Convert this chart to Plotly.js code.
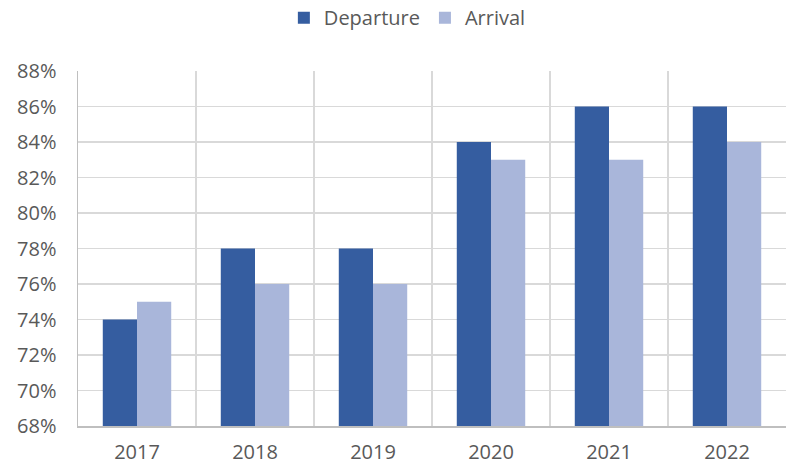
<!DOCTYPE html>
<html><head><meta charset="utf-8">
<script src="https://cdn.plot.ly/plotly-3.0.1.min.js"></script>
<style>html,body{margin:0;padding:0;background:#fff}#chart{width:791px;height:465px}</style>
</head><body><div id="chart"></div>
<script>
const years = ['2017','2018','2019','2020','2021','2022'];
const departure = [74, 78, 78, 84, 86, 86];
const arrival = [75, 76, 76, 83, 83, 84];

const font = {family: 'Open Sans, Liberation Sans, sans-serif', size: 20, color: '#595959'};
const data = [
  {type: 'bar', name: 'Departure', x: years, y: departure, marker: {color: '#355DA0'}},
  {type: 'bar', name: 'Arrival', x: years, y: arrival, marker: {color: '#A9B6DA'}}
];
const layout = {
  width: 791, height: 465,
  margin: {l: 78, r: 5, t: 71, b: 39},
  paper_bgcolor: '#fff', plot_bgcolor: '#fff',
  font: font,
  barmode: 'group', bargap: 0.42, bargroupgap: 0,
  showlegend: true,
  legend: {orientation: 'h', xref: 'container', yref: 'container', x: 0.515, xanchor: 'center', y: 0.962, yanchor: 'middle',
           font: font, itemwidth: 30, traceorder: 'normal', tracegroupgap: 0},
  xaxis: {type: 'category', tickson: 'boundaries', showgrid: true, gridcolor: '#D9D9D9', gridwidth: 1.5,
          showline: true, linecolor: '#BFBFBF', linewidth: 1.5, ticks: '', tickfont: font, fixedrange: true,
          automargin: false, ticklabelstandoff: 7},
  yaxis: {range: [68, 88], dtick: 2, tick0: 68, ticksuffix: '%', showgrid: true, gridcolor: '#D9D9D9', gridwidth: 1.5,
          showline: true, linecolor: '#BFBFBF', linewidth: 1.5, ticks: '', zeroline: false, tickfont: font,
          ticklabelstandoff: 16, automargin: false}
};
Plotly.newPlot('chart', data, layout, {displayModeBar: false, staticPlot: true});
</script>
</body></html>
